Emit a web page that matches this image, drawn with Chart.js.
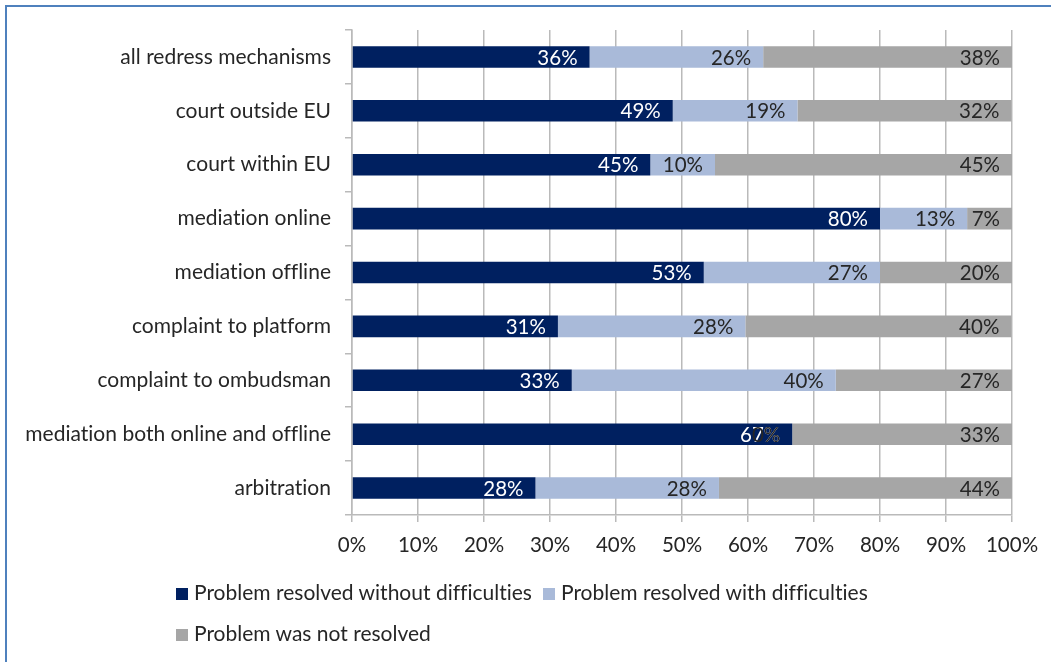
<!DOCTYPE html>
<html>
<head>
<meta charset="utf-8">
<script src="https://cdn.jsdelivr.net/npm/chart.js@4/dist/chart.umd.min.js"></script>
<style>
  html, body { margin: 0; padding: 0; background: #fff; }
  body { width: 1051px; height: 662px; position: relative; overflow: hidden; font-family: Lato, "Open Sans", sans-serif; }
  #frame { position: absolute; left: 5px; top: 5px; width: 1100px; height: 700px; border-top: 2px solid #4f81bd; border-left: 2px solid #4f81bd; }
  #wrap { position: absolute; left: 0; top: 0; width: 1051px; height: 662px; }
  .leg { position: absolute; font-size: 21px; color: #262626; white-space: nowrap; line-height: 22px; font-variant-ligatures: none; }
  .leg i { display: inline-block; width: 12px; height: 12px; margin-right: 6px; vertical-align: 0px; }
</style>
</head>
<body>
<div id="frame"></div>
<div id="wrap"><canvas id="myChart" width="1051" height="662"></canvas></div>
<div id="legend"></div>
<script>
var categories = [
  'all redress mechanisms',
  'court outside EU',
  'court within EU',
  'mediation online',
  'mediation offline',
  'complaint to platform',
  'complaint to ombudsman',
  'mediation both online and offline',
  'arbitration'
];
var seriesNames = [
  'Problem resolved without difficulties',
  'Problem resolved with difficulties',
  'Problem was not resolved'
];
var withoutDifficulties = [36, 48.6, 45.2, 80, 53.3, 31.2, 33.3, 66.7, 27.8];
var withDifficulties    = [26.3, 18.9, 9.8, 13.2, 26.7, 28.4, 40, 0, 27.8];
var notResolved         = [37.7, 32.4, 45, 6.8, 20, 40.3, 26.7, 33.3, 44.4];
var xTicks = [0, 10, 20, 30, 40, 50, 60, 70, 80, 90, 100];

var colorHex = ['#002060', '#a9bad9', '#a6a6a6'];
var labelColors = ['#ffffff', '#262626', '#262626'];
var fontFamily = 'Lato, "Open Sans", sans-serif';

// tiny letter spacing stops Lato from drawing the "ti" ligature
var noLigatures = {
  id: 'noLigatures',
  beforeDraw: function (chart) {
    chart.ctx.letterSpacing = '0.01px';
  }
};

// value labels at the inside end of each bar segment
var barLabels = {
  id: 'barLabels',
  afterDatasetsDraw: function (chart) {
    var ctx = chart.ctx;
    ctx.save();
    ctx.font = '20.5px ' + fontFamily;
    ctx.textAlign = 'right';
    ctx.textBaseline = 'middle';
    chart.data.datasets.forEach(function (ds, i) {
      var meta = chart.getDatasetMeta(i);
      meta.data.forEach(function (bar, j) {
        ctx.fillStyle = labelColors[i];
        ctx.fillText(Math.round(ds.data[j]) + '%', bar.x - 12, bar.y + 1);
      });
    });
    ctx.restore();
  }
};

var ctx = document.getElementById('myChart').getContext('2d');
var myChart = new Chart(ctx, {
  type: 'bar',
  data: {
    labels: categories,
    datasets: [
      { label: seriesNames[0], data: withoutDifficulties, backgroundColor: colorHex[0] },
      { label: seriesNames[1], data: withDifficulties, backgroundColor: colorHex[1] },
      { label: seriesNames[2], data: notResolved, backgroundColor: colorHex[2] }
    ]
  },
  options: {
    indexAxis: 'y',
    responsive: false,
    animation: false,
    layout: { padding: { left: 0, right: 39, top: 30, bottom: 97 } },
    datasets: {
      bar: { categoryPercentage: 1, barPercentage: 0.4, borderWidth: 0 }
    },
    plugins: {
      legend: { display: false },
      tooltip: { enabled: false }
    },
    scales: {
      x: {
        stacked: true,
        min: 0,
        max: 100,
        afterBuildTicks: function (scale) {
          scale.ticks = xTicks.map(function (v) { return { value: v }; });
        },
        afterFit: function (scale) { scale.height = 50; },
        grid: { color: '#bababa', lineWidth: 1.5, tickLength: 7, drawTicks: true },
        border: { color: '#bababa', width: 1.5 },
        ticks: {
          color: '#262626',
          padding: 11,
          font: { family: fontFamily, size: 20.5 },
          callback: function (v) { return v + '%'; }
        }
      },
      y: {
        stacked: true,
        offset: true,
        afterFit: function (scale) { scale.width = 352; },
        grid: { drawOnChartArea: false, offset: true, color: '#bababa', lineWidth: 1.5, tickLength: 7 },
        border: { color: '#bababa', width: 1.5 },
        ticks: {
          color: '#262626',
          padding: 14,
          font: { family: fontFamily, size: 21 }
        }
      }
    }
  },
  plugins: [noLigatures, barLabels]
});

// legend laid out like the original: two entries on the first row, one below
var legendPos = [[176, 581], [543, 581], [176, 622]];
var legendEl = document.getElementById('legend');
seriesNames.forEach(function (name, i) {
  var d = document.createElement('div');
  d.className = 'leg';
  d.style.left = legendPos[i][0] + 'px';
  d.style.top = legendPos[i][1] + 'px';
  d.innerHTML = '<i style="background:' + colorHex[i] + '"></i>' + name;
  legendEl.appendChild(d);
});
</script>
</body>
</html>
